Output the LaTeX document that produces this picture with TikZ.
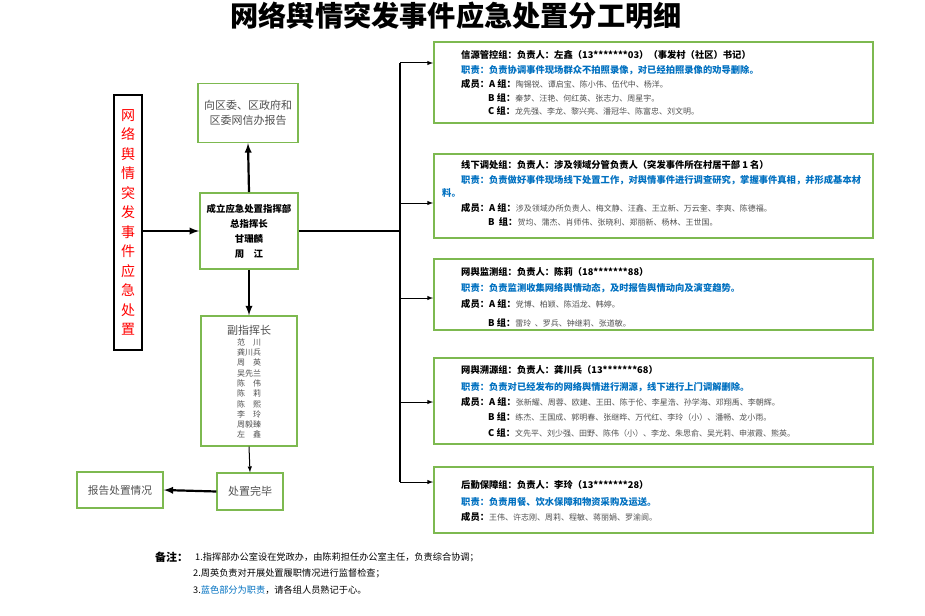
\documentclass[tikz,border=0pt]{standalone}
\usepackage{fontspec}
\setmainfont{Noto Sans CJK SC}
\usepackage{xcolor}
\usepackage{tikz}
\usetikzlibrary{calc}
\definecolor{boxgreen}{RGB}{125,185,80}
\definecolor{dutyblue}{RGB}{0,112,192}
\definecolor{namegray}{RGB}{80,80,80}
\newcommand{\mbr}[1]{{\mdseries\color{namegray}\fontsize{8}{10}\selectfont #1}}

\begin{document}
\begin{tikzpicture}[x=1pt,y=-1pt,
	gbox/.style={draw=boxgreen,line width=1.8pt,inner sep=0pt},
	sbox/.style={draw=boxgreen,line width=1.4pt,inner sep=0pt,text=namegray,align=center},
	head/.style={anchor=west,inner sep=0pt,font=\fontsize{9.3}{11}\selectfont\bfseries},
	duty/.style={head,text=dutyblue},
	note/.style={anchor=west,inner sep=0pt,font=\fontsize{9.2}{11}\selectfont},
	conn/.style={-latex,line width=2.2pt},
	feed/.style={-latex,line width=1pt}]
	\useasboundingbox (0,0) rectangle (925,615);
	\node[inner sep=0pt,font=\fontsize{28.2}{30}\selectfont\bfseries] (title) at (456,16) {网络舆情突发事件应急处置分工明细};
	
	\node[draw=black,line width=1.8pt,minimum width=28,minimum height=255,inner sep=0pt,align=center,text=red,font=\fontsize{14}{19.5}\selectfont] (main) at (128,222.5) {网\\络\\舆\\情\\突\\发\\事\\件\\应\\急\\处\\置};
	\node[gbox,minimum width=98,minimum height=76,align=center,font=\fontsize{9.4}{15}\selectfont\bfseries] (cmd) at (249,231) {成立应急处置指挥部\\总指挥长\\甘珊麟\\周　江};
	\node[sbox,minimum width=100,minimum height=59,font=\fontsize{11}{15}\selectfont] (rpt) at (248,113) {向区委、区政府和\\区委网信办报告};
	\node[sbox,minimum width=96,minimum height=130] (dep) at (249,381) {};
	\node[inner sep=0pt,text=namegray,font=\fontsize{11}{12}\selectfont] (deph) at (249,330) {副指挥长};
	\node[inner sep=0pt,align=center,text=namegray,font=\fontsize{8}{10.3}\selectfont] (depn) at (249,388.5) {范　川\\龚川兵\\周　英\\吴先兰\\陈　伟\\陈　莉\\陈　熙\\李　玲\\周毅臻\\左　鑫};
	\node[sbox,minimum width=66,minimum height=37,font=\fontsize{11}{12}\selectfont] (done) at (250,491.5) {处置完毕};
	\node[sbox,minimum width=86,minimum height=36,font=\fontsize{10.7}{12}\selectfont] (back) at (120,490) {报告处置情况};
	
	\draw[conn] (main.east |- cmd) -- (cmd.west);
	\draw[conn] (cmd.north) -- (rpt.south);
	\draw[conn] (cmd.south) -- (dep.north);
	\draw[feed] (dep.south) -- (done.north);
	\draw[conn] (done.west) -- (back.east);
	
	\node[gbox,minimum width=439,minimum height=81] (g1) at (653.5,82.5) {};
	\node[gbox,minimum width=439,minimum height=84] (g2) at (653.5,196) {};
	\node[gbox,minimum width=439,minimum height=71] (g3) at (653.5,294.5) {};
	\node[gbox,minimum width=439,minimum height=86] (g4) at (653.5,401) {};
	\node[gbox,minimum width=439,minimum height=66] (g5) at (653.5,500) {};
	
	\coordinate (bus) at (400,231);
	\coordinate (bus1) at (400,63);
	\coordinate (bus2) at (400,203);
	\coordinate (bus3) at (400,298);
	\coordinate (bus4) at (400,402);
	\coordinate (bus5) at (400,482);
	\draw[line width=1.5pt] (cmd.east) -- (bus);
	\draw[line width=1.5pt] (bus1) -- (bus5);
	\draw[feed] (bus1) -- (bus1 -| g1.west);
	\draw[feed] (bus2) -- (bus2 -| g2.west);
	\draw[feed] (bus3) -- (bus3 -| g3.west);
	\draw[feed] (bus4) -- (bus4 -| g4.west);
	\draw[feed] (bus5) -- (bus5 -| g5.west);
	
	\node[head] (g1h) at (461,55) {信源管控组：负责人：左鑫（13*******03）（事发村（社区）书记）};
	\node[duty] (g1d) at (461,70) {职责：负责协调事件现场群众不拍照录像，对已经拍照录像的劝导删除。};
	\node[head] (g1a) at (461,84) {成员：A 组：\mbr{陶锡锐、谭启宝、陈小伟、伍代中、杨洋。}};
	\node[head] (g1b) at (488,98) {B 组：\mbr{秦梦、汪艳、何红英、张志力、周星宇。}};
	\node[head] (g1c) at (488,111) {C 组：\mbr{龙先强、李龙、黎兴亮、潘冠华、陈富忠、刘文明。}};
	
	\node[head] (g2h) at (461,165) {线下调处组：负责人：涉及领域分管负责人（突发事件所在村居干部 1 名）};
	\node[duty] (g2d) at (461,180) {职责：负责做好事件现场线下处置工作，对舆情事件进行调查研究，掌握事件真相，并形成基本材};
	\node[duty] (g2e) at (442,193) {料。};
	\node[head] (g2a) at (461,208) {成员：A 组：\mbr{涉及领域办所负责人、梅文静、汪鑫、王立新、万云奎、李爽、陈德福。}};
	\node[head] (g2b) at (488,222) {B \ 组：\mbr{贺均、蒲杰、肖师伟、张晓利、郑丽新、杨林、王世国。}};
	
	\node[head] (g3h) at (461,272) {网舆监测组：负责人：陈莉（18*******88）};
	\node[duty] (g3d) at (461,288) {职责：负责监测收集网络舆情动态，及时报告舆情动向及演变趋势。};
	\node[head] (g3a) at (461,304) {成员：A 组：\mbr{党博、柏颖、陈滔龙、韩婷。}};
	\node[head] (g3b) at (488,323) {B 组：\mbr{雷玲 \ 、罗兵、钟继莉、张道敏。}};
	
	\node[head] (g4h) at (461,370) {网舆溯源组：负责人：龚川兵（13*******68）};
	\node[duty] (g4d) at (461,387) {职责：负责对已经发布的网络舆情进行溯源，线下进行上门调解删除。};
	\node[head] (g4a) at (461,402) {成员：A 组：\mbr{张新耀、周蓉、欧建、王田、陈于伦、李星浩、孙学海、邓翔禹、李朝辉。}};
	\node[head] (g4b) at (488,417) {B 组：\mbr{练杰、王国成、郭明春、张继晔、万代红、李玲（小）、潘畅、龙小雨。}};
	\node[head] (g4c) at (488,433) {C 组：\mbr{文先平、刘少强、田野、陈伟（小）、李龙、朱思俞、吴光莉、申淑霞、熊英。}};
	
	\node[head] (g5h) at (461,485) {后勤保障组：负责人：李玲（13*******28）};
	\node[duty] (g5d) at (461,502) {职责：负责用餐、饮水保障和物资采购及运送。};
	\node[head] (g5a) at (461,517) {成员：\mbr{王伟、许志刚、周莉、程敏、蒋丽娟、罗渝阆。}};
	
	\node[anchor=west,inner sep=0pt,font=\fontsize{11}{12}\selectfont\bfseries] (notes) at (155,557) {备注：};
	\node[note] (n1) at (195,557) {1.指挥部办公室设在党政办，由陈莉担任办公室主任，负责综合协调；};
	\node[note] (n2) at (193,573) {2.周英负责对开展处置履职情况进行监督检查；};
	\node[note] (n3) at (193,590) {3.\textcolor{dutyblue}{蓝色部分为职责}，请各组人员熟记于心。};
\end{tikzpicture}
\end{document}
